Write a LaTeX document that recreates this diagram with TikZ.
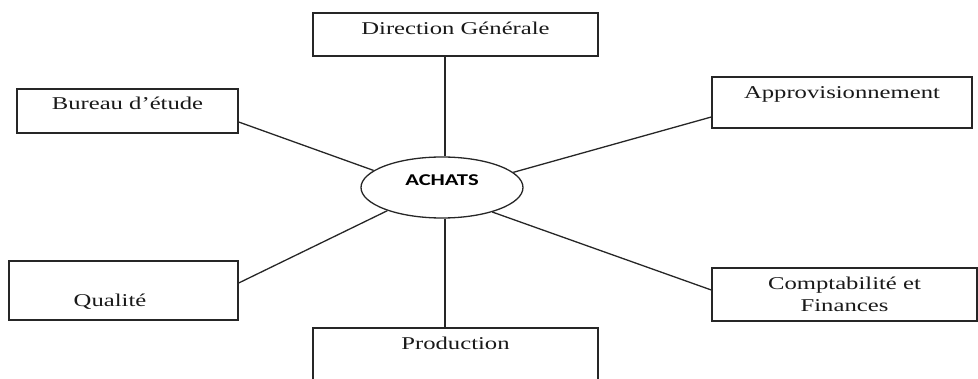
\documentclass[tikz,border=0pt]{standalone}
\usepackage{fontspec}
\usepackage{tikz}
\usetikzlibrary{shapes.geometric}
\newfontfamily\boitefont[FakeStretch=1.37]{Liberation Serif}
\newfontfamily\centrefont[FakeStretch=1.37]{Carlito}
\tikzset{
  boite/.style={draw=black!85,line width=1.4pt,rectangle,inner xsep=0pt,inner ysep=0pt,
    text=black!90,font=\boitefont\fontsize{18}{22}\selectfont},
  centre/.style={draw=black!85,line width=1.3pt,ellipse,inner sep=0pt,
    minimum width=162pt,minimum height=61pt,text height=11pt,text depth=15.4pt,
    font=\centrefont\bfseries\fontsize{16.5}{18}\selectfont},
  lien/.style={draw=black!85,line width=1.3pt}
}
\begin{document}
\begin{tikzpicture}[x=1pt,y=1pt]
  \useasboundingbox (0,0) rectangle (978,378);
  % le centre
  \node[centre] (achats) at (442,190.5) {ACHATS};
  % les services
  \node[boite,minimum width=285pt,text height=22pt,text depth=21pt] (dg) at (455.5,343.5) {Direction Générale};
  \node[boite,minimum width=221pt,text height=21pt,text depth=23pt] (bur) at (127.5,267) {Bureau d’étude};
  \node[boite,minimum width=260pt,text height=22pt,text depth=29pt] (appro) at (842,275.5) {Approvisionnement};
  \node[boite,minimum width=229pt,text height=46pt,text depth=13pt] (qual) at (123.5,87.5) {Qualité\hspace*{27pt}};
  \node[boite,minimum width=265pt,minimum height=53pt,align=center] (compta) at (844.5,83.5) {Comptabilité et\\Finances};
  \node[boite,minimum width=285pt,text height=21pt,text depth=40pt] (prod) at (455.5,19.5) {Production};
  % les liens
  \draw[lien] ([xshift=3pt]achats.north) -- ([xshift=3pt]achats.north |- dg.south);
  \draw[lien] ([xshift=3pt]achats.south) -- ([xshift=3pt]achats.south |- prod.north);
  \draw[lien] ([yshift=-11pt]bur.east) -- (achats.166);
  \draw[lien] ([yshift=-14.5pt]appro.west) -- (achats.12);
  \draw[lien] ([yshift=7.5pt]qual.east) -- (achats.203);
  \draw[lien] ([yshift=4.5pt]compta.west) -- (achats.334);
\end{tikzpicture}
\end{document}
